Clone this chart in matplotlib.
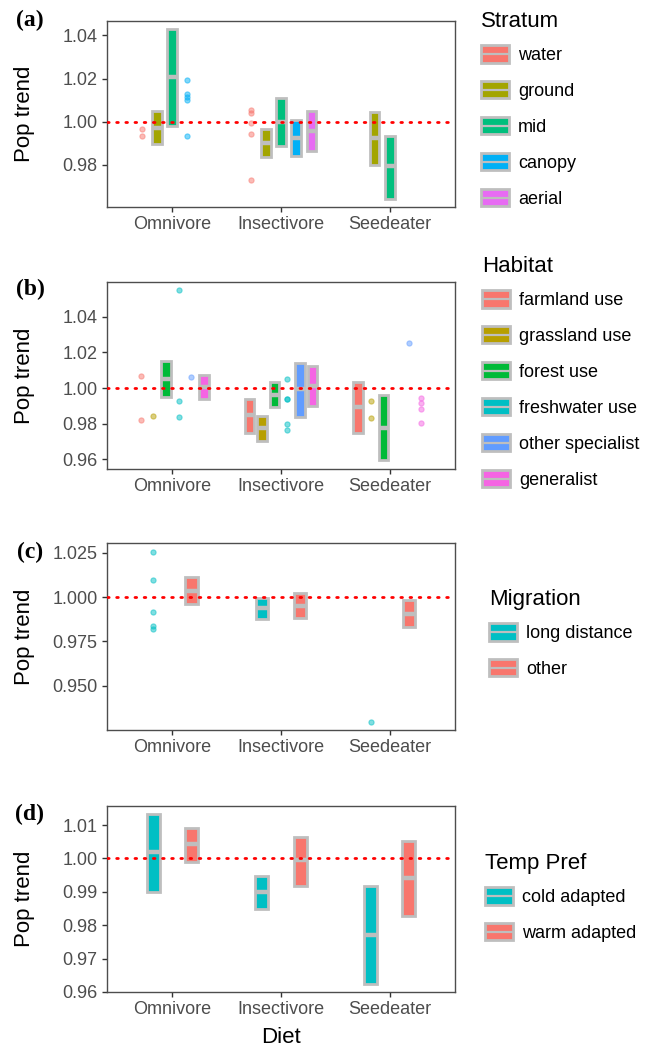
import numpy as np
import matplotlib.pyplot as plt
from matplotlib.patches import Patch, Rectangle
from matplotlib.lines import Line2D
from matplotlib.legend_handler import HandlerBase

plt.rcParams['font.family'] = ['Liberation Sans', 'DejaVu Sans']

diets = ['Omnivore', 'Insectivore', 'Seedeater']

# (a) stratum
strata = ['water', 'ground', 'mid', 'canopy', 'aerial']
strata_colors = ['#F8766D', '#A3A500', '#00BF7D', '#00B0F6', '#E76BF3']
# (diet, group, lower, median, upper)
strata_boxes = [
    (0, 1, 0.9894, 0.9970, 1.0049),
    (0, 2, 0.9980, 1.0207, 1.0428),
    (1, 1, 0.9834, 0.9900, 0.9964),
    (1, 2, 0.9886, 0.9999, 1.0109),
    (1, 3, 0.9839, 0.9922, 1.0005),
    (1, 4, 0.9865, 0.9956, 1.0049),
    (2, 1, 0.9798, 0.9922, 1.0043),
    (2, 2, 0.9642, 0.9791, 0.9932),
]
# (diet, group, values)
strata_points = [
    (0, 0, [0.9965, 0.9931]),
    (0, 3, [1.0195, 1.0127, 1.0113, 1.0098, 0.9932]),
    (1, 0, [1.0055, 1.0041, 0.9991, 0.9942, 0.9730]),
]

# (b) habitat
habitats = ['farmland use', 'grassland use', 'forest use', 'freshwater use',
            'other specialist', 'generalist']
habitat_colors = ['#F8766D', '#B79F00', '#00BA38', '#00BFC4', '#619CFF', '#F564E3']
habitat_boxes = [
    (0, 2, 0.9950, 1.0050, 1.0151),
    (0, 5, 0.9936, 1.0006, 1.0071),
    (1, 0, 0.9750, 0.9850, 0.9940),
    (1, 1, 0.9705, 0.9776, 0.9841),
    (1, 2, 0.9892, 0.9963, 1.0032),
    (1, 4, 0.9839, 0.9992, 1.0138),
    (1, 5, 0.9899, 1.0010, 1.0125),
    (2, 0, 0.9750, 0.9893, 1.0034),
    (2, 2, 0.9593, 0.9774, 0.9961),
]
habitat_points = [
    (0, 0, [1.0069, 0.9821]),
    (0, 1, [0.9845]),
    (0, 3, [1.0548, 0.9929, 0.9837]),
    (0, 4, [1.0060]),
    (1, 3, [1.0052, 0.9938, 0.9938, 0.9800, 0.9763]),
    (2, 1, [0.9929, 0.9832]),
    (2, 4, [1.0254]),
    (2, 5, [0.9946, 0.9914, 0.9882, 0.9802]),
]

# (c) migration
migration = ['long distance', 'other']
migration_colors = ['#00BFC4', '#F8766D']
migration_boxes = [
    (0, 1, 0.9961, 1.0036, 1.0111),
    (1, 0, 0.9876, 0.9940, 0.9994),
    (1, 1, 0.9882, 0.9951, 1.0024),
    (2, 1, 0.9829, 0.9906, 0.9981),
]
migration_points = [
    (0, 0, [1.0257, 1.0096, 0.9917, 0.9837, 0.9821]),
    (2, 0, [0.9299]),
]

# (d) temperature preference
temp = ['cold adapted', 'warm adapted']
temp_colors = ['#00BFC4', '#F8766D']
temp_boxes = [
    (0, 0, 0.9899, 1.0018, 1.0132),
    (0, 1, 0.9989, 1.0042, 1.0092),
    (1, 0, 0.9850, 0.9898, 0.9947),
    (1, 1, 0.9917, 0.9994, 1.0064),
    (2, 0, 0.9625, 0.9770, 0.9917),
    (2, 1, 0.9827, 0.9940, 1.0053),
]
temp_points = []

W, H = 654, 1047
GREY = '#BEBEBE'


class BoxKey(HandlerBase):
    def create_artists(self, legend, orig_handle, xdescent, ydescent,
                       width, height, fontsize, trans):
        r = Rectangle((-xdescent, -ydescent), width, height,
                      facecolor=orig_handle.get_facecolor(), edgecolor=GREY,
                      lw=2, transform=trans)
        m = Line2D([-xdescent + 1, -xdescent + width - 1],
                   [-ydescent + height / 2] * 2, color=GREY, lw=1.6,
                   transform=trans)
        return [r, m]


panels = [
    dict(top=21, bottom=207, boxes=strata_boxes, points=strata_points,
         groups=strata, colors=strata_colors, title='Stratum',
         yticks=[0.98, 1.00, 1.02, 1.04], fmt='{:.2f}', bw=0.09,
         letter='(a)', ly=20, leg=(481, 11)),
    dict(top=282, bottom=469, boxes=habitat_boxes, points=habitat_points,
         groups=habitats, colors=habitat_colors, title='Habitat',
         yticks=[0.96, 0.98, 1.00, 1.02, 1.04], fmt='{:.2f}', bw=0.085,
         letter='(b)', ly=289, leg=(482, 256)),
    dict(top=543, bottom=730, boxes=migration_boxes, points=migration_points,
         groups=migration, colors=migration_colors, title='Migration',
         yticks=[0.950, 0.975, 1.000, 1.025], fmt='{:.3f}', bw=0.115,
         letter='(c)', ly=552, leg=(489, 589)),
    dict(top=806, bottom=992, boxes=temp_boxes, points=temp_points,
         groups=temp, colors=temp_colors, title='Temp Pref',
         yticks=[0.96, 0.97, 0.98, 0.99, 1.00, 1.01], fmt='{:.2f}', bw=0.12,
         letter='(d)', ly=814, leg=(485, 853)),
]

fig = plt.figure(figsize=(W / 100, H / 100), dpi=100)

for i, p in enumerate(panels):
    ax = fig.add_axes([107 / W, 1 - p['bottom'] / H, 348 / W,
                       (p['bottom'] - p['top']) / H])
    n = len(p['groups'])
    slot = 0.7 / n

    def xpos(d, g):
        return d + 1 + (g - (n - 1) / 2) * slot

    allv = []
    for d, g, lo, med, hi in p['boxes']:
        x = xpos(d, g)
        ax.bar(x, hi - lo, bottom=lo, width=p['bw'], color=p['colors'][g],
               edgecolor=GREY, linewidth=2, zorder=3)
        ax.hlines(med, x - p['bw'] / 2, x + p['bw'] / 2, color=GREY,
                  lw=3.2, zorder=4)
        allv += [lo, hi]
    for d, g, vals in p['points']:
        ax.scatter([xpos(d, g)] * len(vals), vals, s=14, color=p['colors'][g],
                   alpha=0.5, linewidths=0.8, zorder=3)
        allv += vals

    ax.axhline(1.0, color='red', lw=2, linestyle=(0, (0.6, 2.7)),
               dash_capstyle='round', zorder=5)

    lo, hi = min(allv), max(allv)
    pad = (hi - lo) * 0.05
    ax.set_ylim(lo - pad, hi + pad)
    ax.set_xlim(0.4, 3.6)
    ax.set_xticks([1, 2, 3])
    ax.set_xticklabels(diets)
    ax.set_yticks(p['yticks'])
    ax.set_yticklabels([p['fmt'].format(t) for t in p['yticks']])
    ax.tick_params(length=3.7, width=1, color='#333333', labelsize=13,
                   labelcolor='#4D4D4D', pad=3)
    for s in ax.spines.values():
        s.set_color('#4D4D4D')
        s.set_linewidth(1)
    ax.set_ylabel('Pop trend', fontsize=16)
    ax.yaxis.set_label_coords(-0.207, 0.5)
    if i == 3:
        ax.set_xlabel('Diet', fontsize=16)
        ax.xaxis.set_label_coords(0.5, -0.19)

    fig.text(30 / W, 1 - p['ly'] / H, p['letter'], family='Liberation Serif',
             weight='bold', size=17, ha='center', va='center')

    handles = [Patch(facecolor=c) for c in p['colors']]
    leg = fig.legend(handles, p['groups'], title=p['title'], loc='upper left',
                     bbox_to_anchor=(p['leg'][0] / W, 1 - p['leg'][1] / H),
                     frameon=False, fontsize=13, title_fontsize=16,
                     handler_map={Patch: BoxKey()}, handlelength=1.55,
                     handleheight=1.1, handletextpad=0.5, labelspacing=0.95,
                     borderpad=0, borderaxespad=0, alignment='left')
    # tighter gap between legend title and first key
    leg._legend_box.sep = 9.5

fig.savefig('out.png', dpi=100)
